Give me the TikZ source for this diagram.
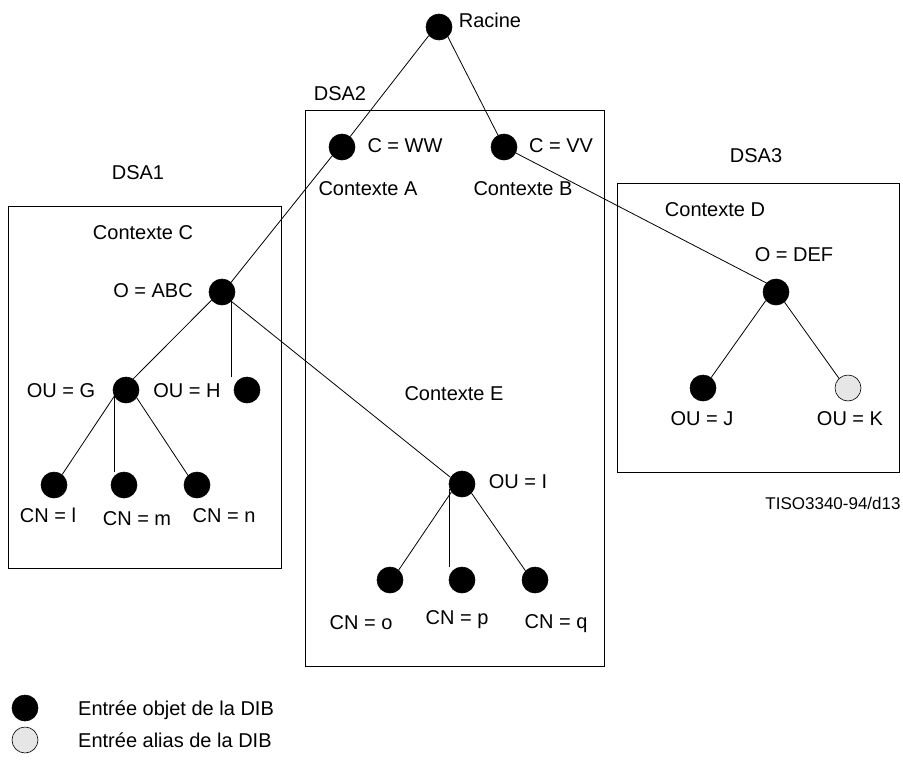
\documentclass[tikz,border=0pt]{standalone}
\usepackage{fontspec}
\setmainfont{Liberation Sans}
\definecolor{aliasgray}{HTML}{E6E6E6}
\begin{document}
\begin{tikzpicture}[x=1pt,y=-1pt,
  obj/.style={circle,draw=black,fill=black,minimum size=26pt,inner sep=0pt,line width=0.6pt},
  alias/.style={circle,draw=black,fill=aliasgray,minimum size=26pt,inner sep=0pt,line width=0.6pt},
  lbl/.style={font=\fontsize{20}{24}\selectfont,inner sep=0pt,text height=14pt,text depth=0pt},
  small/.style={font=\fontsize{17}{20}\selectfont,inner sep=0pt,text height=12pt,text depth=0pt},
  dsabox/.style={draw=black,line width=1pt},
  edge/.style={draw=black,line width=0.8pt}]
\useasboundingbox (0,0) rectangle (903,766);
% boxes
\node[dsabox,minimum width=273pt,minimum height=362pt,inner sep=0pt] (dsa1) at (144.5,387) {};
\node[dsabox,minimum width=299pt,minimum height=556pt,inner sep=0pt] (dsa2) at (454.5,388) {};
\node[dsabox,minimum width=282pt,minimum height=289pt,inner sep=0pt] (dsa3) at (758,327.5) {};
% box labels
\node[lbl] (tdsa1) at (138,172) {DSA1};
\node[lbl] (tdsa2) at (340,93) {DSA2};
\node[lbl] (tdsa3) at (756,155) {DSA3};
% context labels
\node[lbl] (ctxa) at (368,188) {Contexte A};
\node[lbl] (ctxb) at (523,188) {Contexte B};
\node[lbl] (ctxc) at (143,232) {Contexte C};
\node[lbl] (ctxd) at (715,209) {Contexte D};
\node[lbl] (ctxe) at (454,393) {Contexte E};
% entries
\node[obj] (root) at (439,27) {};
\node[obj] (ww) at (342,147) {};
\node[obj] (vv) at (504,147) {};
\node[obj] (abc) at (222,292) {};
\node[obj] (oug) at (126,390) {};
\node[obj] (ouh) at (247,390) {};
\node[obj] (cnl) at (54,485) {};
\node[obj] (cnm) at (124,485) {};
\node[obj] (cnn) at (197,485) {};
\node[obj] (oui) at (462,484) {};
\node[obj] (cno) at (390,580) {};
\node[obj] (cnp) at (462,580) {};
\node[obj] (cnq) at (535,580) {};
\node[obj] (def) at (776,292) {};
\node[obj] (ouj) at (703,388) {};
\node[alias] (ouk) at (848,388) {};
% entry labels
\node[lbl] (lroot) at (490,20) {Racine};
\node[lbl] (lww) at (405,145) {C = WW};
\node[lbl] (lvv) at (561,145) {C = VV};
\node[lbl] (labc) at (153,290) {O = ABC};
\node[lbl] (loug) at (61,390) {OU = G};
\node[lbl] (louh) at (187,390) {OU = H};
\node[lbl] (lcnl) at (48,515) {CN = l};
\node[lbl] (lcnm) at (137,518) {CN = m};
\node[lbl] (lcnn) at (224,515) {CN = n};
\node[lbl] (loui) at (518,481) {OU = I};
\node[lbl] (lcno) at (361,622) {CN = o};
\node[lbl] (lcnp) at (457,617) {CN = p};
\node[lbl] (lcnq) at (556,621) {CN = q};
\node[lbl] (ldef) at (794,254) {O = DEF};
\node[lbl] (louj) at (702,418) {OU = J};
\node[lbl] (louk) at (850,418) {OU = K};
% connectors
\draw[edge] (root.220) -- (ww.52);
\draw[edge] (root.-48) -- (vv.117);
\draw[edge] (ww.222) -- (abc.47);
\draw[edge] (vv.-27) -- (def.137);
\draw[edge] (abc.218) -- (oug.57);
\draw[edge] (abc.-45) -- (abc.-45 |- ouh.north);
\draw[edge] (abc.-45) -- (oui.150);
\draw[edge] (oug.208) -- (cnl.52);
\draw[edge] (oug.205) -- (oug.205 |- cnm.north);
\draw[edge] (oug.-36) -- (cnn.133);
\draw[edge] (oui.217) -- (cno.49);
\draw[edge] (oui.200) -- (oui.200 |- cnp.north);
\draw[edge] (oui.-44) -- (cnq.136);
\draw[edge] (def.220) -- (ouj.52);
\draw[edge] (def.-50) -- (ouk.133);
% reference code
\node[small] (ref) at (833,503) {TISO3340-94/d13};
% legend
\node[obj] (legobj) at (25,708) {};
\node[alias] (legalias) at (25,740) {};
\node[lbl,anchor=west] (tlegobj) at (78,708) {Entrée objet de la DIB};
\node[lbl,anchor=west] (tlegalias) at (78,740) {Entrée alias de la DIB};
\end{tikzpicture}
\end{document}
